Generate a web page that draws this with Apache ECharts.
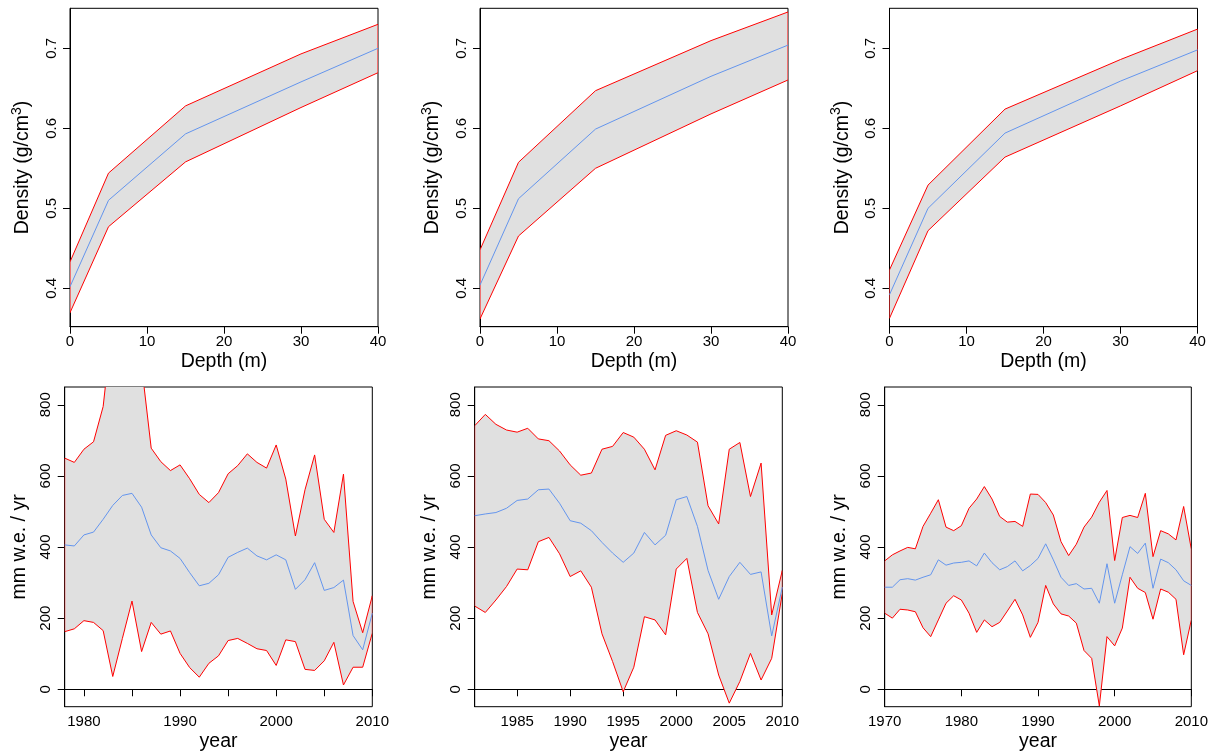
<!DOCTYPE html>
<html>
<head>
<meta charset="utf-8">
<script src="https://cdn.jsdelivr.net/npm/echarts@6.0.0/dist/echarts.min.js"></script>
<style>
html,body{margin:0;padding:0;background:#fff;}
#c{width:1211px;height:753px;}
</style>
</head>
<body>
<div id="c"></div>
<script>
// ---- Data ----
const depth = [0, 5, 15, 30, 40];
const top1Mean  = [0.402, 0.510, 0.593, 0.658, 0.700];
const top1Upper = [0.433, 0.544, 0.628, 0.693, 0.730];
const top1Lower = [0.3695, 0.477, 0.558, 0.626, 0.6695];
const top2Mean  = [0.404, 0.512, 0.599, 0.665, 0.704];
const top2Upper = [0.448, 0.5575, 0.647, 0.7096, 0.7454];
const top2Lower = [0.3617, 0.4654, 0.550, 0.618, 0.6604];
const top3Mean  = [0.392, 0.500, 0.594, 0.659, 0.698];
const top3Upper = [0.423, 0.529, 0.624, 0.686, 0.724];
const top3Lower = [0.3625, 0.472, 0.564, 0.628, 0.672];

const yearsLeft = [1978,1979,1980,1981,1982,1983,1984,1985,1986,1987,1988,1989,1990,1991,1992,1993,1994,1995,1996,1997,1998,1999,2000,2001,2002,2003,2004,2005,2006,2007,2008,2009,2010];
const leftUpper = [650,638,675,696,795,1040,1080,1060,910,678,640,615,631,592,548,525,553,606,629,662,638,622,687,591,431,561,659,478,441,605,247,159,263];
const leftMean  = [406,403,434,442,478,517,545,551,512,434,398,389,368,328,291,298,322,371,385,397,375,364,378,364,281,308,356,278,286,307,151,111,214];
const leftLower = [162,170,193,188,165,36,143,248,106,188,155,164,101,61,34,73,94,137,143,129,114,109,67,139,134,56,53,80,132,12,62,62,158];

const yearsMid = [1981,1982,1983,1984,1985,1986,1987,1988,1989,1990,1991,1992,1993,1994,1995,1996,1997,1998,1999,2000,2001,2002,2003,2004,2005,2006,2007,2008,2009,2010];
const midUpper = [741,773,745,729,723,734,704,699,670,631,602,608,675,683,722,709,675,617,714,727,715,695,516,465,675,694,542,636,209,334];
const midMean  = [488,493,497,509,531,535,561,563,523,474,467,446,413,383,357,383,441,406,433,533,542,458,334,253,317,357,323,330,150,287];
const midLower = [234,216,251,289,338,336,415,427,381,317,333,287,156,78,-7,62,204,195,153,338,368,216,156,40,-39,22,101,26,87,270];

const yearsRight = [1970,1971,1972,1973,1974,1975,1976,1977,1978,1979,1980,1981,1982,1983,1984,1985,1986,1987,1988,1989,1990,1991,1992,1993,1994,1995,1996,1997,1998,1999,2000,2001,2002,2003,2004,2005,2006,2007,2008,2009,2010];
const rightUpper = [361,378,389,399,395,458,495,533,456,446,460,509,535,570,535,486,470,472,458,549,548,525,490,415,376,408,456,484,526,559,362,483,489,483,551,373,446,437,420,514,394];
const rightMean  = [287,287,308,311,307,315,322,364,349,355,357,361,347,383,356,336,345,361,333,348,368,409,364,315,292,297,282,284,242,353,242,322,401,382,411,284,366,356,336,305,292];
const rightLower = [214,200,225,223,218,173,148,195,242,263,251,214,160,195,176,188,220,253,209,146,188,292,240,212,206,186,109,87,-47,148,122,172,315,284,272,197,282,273,253,97,195];

// tick labels
const depthTicks = [0, 10, 20, 30, 40];
const densityTicks = [0.4, 0.5, 0.6, 0.7];
const mmTicks = [0, 200, 400, 600, 800];
const leftYearTicks = [1980, 1985, 1990, 1995, 2000, 2005, 2010];
const leftYearLabels = [1980, 1990, 2000, 2010];
const midYearTicks = [1985, 1990, 1995, 2000, 2005, 2010];
const rightYearTicks = [1970, 1980, 1990, 2000, 2010];

// ---- Build ----
const FONT = '"Liberation Sans", Arial, Helvetica, sans-serif';
const grids = [], xAxes = [], yAxes = [], series = [];

function addPanel(box, xs, mean, upper, lower, xc, yc) {
  const i = grids.length;
  grids.push({left: box[0], top: box[1], width: box[2], height: box[3], show: true,
    borderColor: '#000', borderWidth: 1, backgroundColor: 'transparent', containLabel: false});
  xAxes.push({
    type: 'value', gridIndex: i, min: xc.min, max: xc.max,
    axisLine: {show: true, lineStyle: {color: '#000', width: 1}},
    axisTick: {show: true, inside: false, length: 7, lineStyle: {color: '#000', width: 1}, customValues: xc.ticks},
    axisLabel: {show: true, customValues: xc.labels, margin: 8, fontSize: 15, color: '#000', fontFamily: FONT,
      formatter: v => String(v), showMinLabel: true, showMaxLabel: true, hideOverlap: false},
    splitLine: {show: false},
    name: xc.name, nameLocation: 'middle', nameGap: 25,
    nameTextStyle: {fontSize: 19.5, color: '#000', fontFamily: FONT}
  });
  yAxes.push({
    type: 'value', gridIndex: i, min: yc.min, max: yc.max,
    axisLine: {show: true, lineStyle: {color: '#000', width: 1}},
    axisTick: {show: true, inside: false, length: 7, lineStyle: {color: '#000', width: 1}, customValues: yc.ticks},
    axisLabel: {show: true, customValues: yc.ticks, rotate: 90, margin: yc.margin, fontSize: 15, color: '#000', fontFamily: FONT,
      formatter: yc.fmt, showMinLabel: true, showMaxLabel: true, hideOverlap: false},
    splitLine: {show: false},
    name: yc.name, nameLocation: 'middle', nameGap: yc.gap, nameRotate: 90,
    nameTextStyle: {fontSize: 19.5, color: '#000', fontFamily: FONT,
      rich: {
        a: {fontSize: 19.5, color: '#000', fontFamily: FONT, lineHeight: 26},
        s: {fontSize: 14, color: '#000', fontFamily: FONT, lineHeight: 14, verticalAlign: 'top'}
      }}
  });
  series.push({
    type: 'custom', xAxisIndex: i, yAxisIndex: i, silent: true, clip: true, z: 1,
    data: [[xs[0], lower[0]]],
    renderItem: function (params, api) {
      const pts = [];
      for (let k = 0; k < xs.length; k++) pts.push(api.coord([xs[k], upper[k]]));
      for (let k = xs.length - 1; k >= 0; k--) pts.push(api.coord([xs[k], lower[k]]));
      const cs = params.coordSys;
      return {
        type: 'polygon',
        shape: {points: pts},
        style: {fill: '#E0E0E0', stroke: '#FF0000', lineWidth: 1},
        clipPath: {type: 'rect', shape: {x: cs.x, y: cs.y, width: cs.width, height: cs.height}}
      };
    }
  });
  series.push({
    type: 'line', xAxisIndex: i, yAxisIndex: i, silent: true, z: 3, clip: true,
    data: xs.map((v, k) => [v, mean[k]]),
    showSymbol: false, symbol: 'none',
    lineStyle: {color: '#6495ED', width: 1}
  });
}

const topY = {min: 0.352, max: 0.75, ticks: densityTicks, fmt: v => v.toFixed(1), margin: 11,
  name: '{a|Density (g/cm}{s|3}{a|)}', gap: 34};
const topX = {min: 0, max: 40, ticks: depthTicks, labels: depthTicks, name: 'Depth (m)'};
const botY = {min: -49, max: 850, ticks: mmTicks, fmt: v => String(v), margin: 11,
  name: 'mm w.e. / yr', gap: 35};

addPanel([70, 8.3, 308, 318.4], depth, top1Mean, top1Upper, top1Lower, topX, topY);
addPanel([480, 8.3, 308, 318.4], depth, top2Mean, top2Upper, top2Lower, topX, topY);
addPanel([889.5, 8.3, 308, 318.4], depth, top3Mean, top3Upper, top3Lower, topX, topY);

addPanel([64.7, 387, 307.6, 319.7], yearsLeft, leftMean, leftUpper, leftLower,
  {min: 1978, max: 2010, ticks: leftYearTicks, labels: leftYearLabels, name: 'year'}, botY);
addPanel([474.7, 387, 307.6, 319.7], yearsMid, midMean, midUpper, midLower,
  {min: 1981, max: 2010, ticks: midYearTicks, labels: midYearTicks, name: 'year'}, botY);
addPanel([884.7, 387, 307.6, 319.7], yearsRight, rightMean, rightUpper, rightLower,
  {min: 1970, max: 2010, ticks: rightYearTicks, labels: rightYearTicks, name: 'year'}, botY);

const chart = echarts.init(document.getElementById('c'), null, {renderer: 'canvas'});
chart.setOption({
  animation: false,
  backgroundColor: '#ffffff',
  grid: grids, xAxis: xAxes, yAxis: yAxes, series: series
});
</script>
</body>
</html>
